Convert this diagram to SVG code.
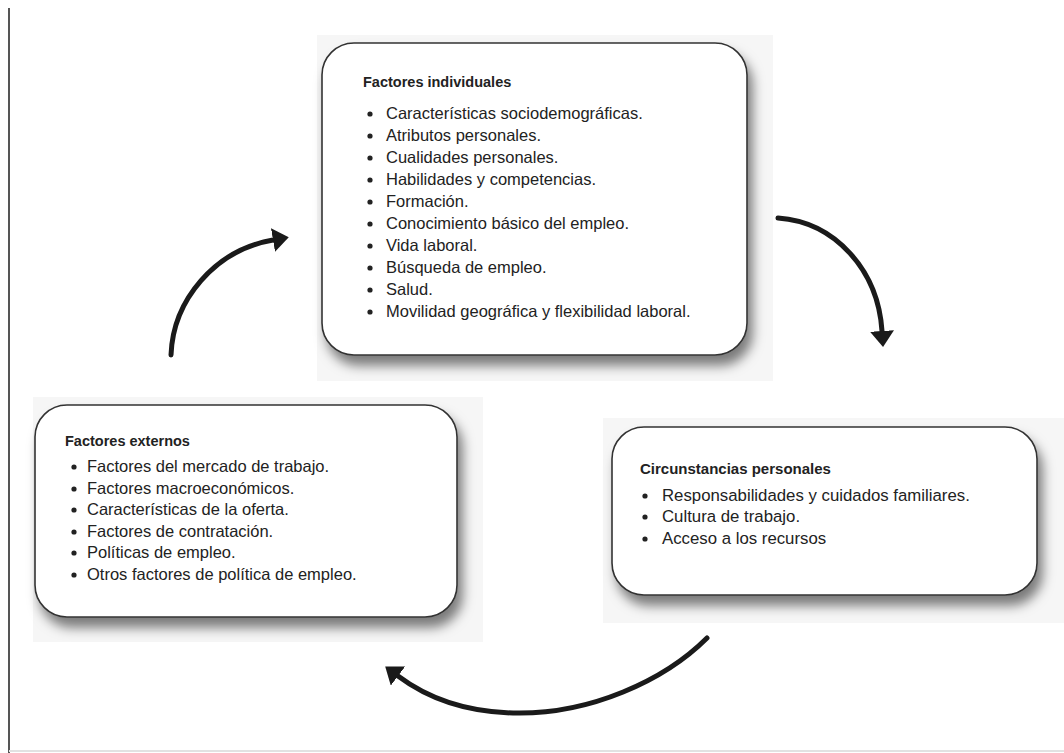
<svg xmlns="http://www.w3.org/2000/svg" width="1064" height="753" viewBox="0 0 1064 753">
<defs>
<filter id="shadow" x="-10%" y="-10%" width="125%" height="135%">
<feDropShadow dx="5" dy="10" stdDeviation="6" flood-color="#000" flood-opacity="0.5"/>
</filter>
<marker id="head" viewBox="0 0 16 24" refX="0" refY="12" markerWidth="16" markerHeight="24" markerUnits="userSpaceOnUse" orient="auto">
<path d="M0,0 L16,12 L0,24 z" fill="#1a1a1a"/>
</marker>
<style>
.bg{fill:#f6f6f6;}
.box{fill:#fff;stroke:#333;stroke-width:1.6;filter:url(#shadow);}
.title{font-family:"Liberation Sans",Arial,sans-serif;font-weight:bold;font-size:14.5px;fill:#222;}
.item{font-family:"Liberation Sans",Arial,sans-serif;font-size:16.5px;fill:#222;}
.dot{fill:#222;}
.arrow{fill:none;stroke:#1a1a1a;stroke-width:5;stroke-linecap:round;marker-end:url(#head);}
</style>
</defs>
<rect width="1064" height="753" fill="#fff"/>
<line x1="9" y1="8" x2="9" y2="753" stroke="#555" stroke-width="2"/>
<line x1="9" y1="751" x2="1064" y2="751" stroke="#e2e2e2" stroke-width="2"/>

<g id="node-individuales">
<rect class="bg" x="317" y="35" width="456" height="346"/>
<rect class="box" x="322" y="43" width="425" height="312" rx="32" ry="32"/>
<text class="title" x="363" y="87">Factores individuales</text>
<g class="dot">
<circle cx="370" cy="114" r="2.6"/><circle cx="370" cy="136" r="2.6"/><circle cx="370" cy="158" r="2.6"/><circle cx="370" cy="180" r="2.6"/><circle cx="370" cy="202" r="2.6"/><circle cx="370" cy="224" r="2.6"/><circle cx="370" cy="246" r="2.6"/><circle cx="370" cy="268" r="2.6"/><circle cx="370" cy="290" r="2.6"/><circle cx="370" cy="312" r="2.6"/>
</g>
<text class="item" x="386" y="119">Características sociodemográficas.</text>
<text class="item" x="386" y="141">Atributos personales.</text>
<text class="item" x="386" y="163">Cualidades personales.</text>
<text class="item" x="386" y="185">Habilidades y competencias.</text>
<text class="item" x="386" y="207">Formación.</text>
<text class="item" x="386" y="229">Conocimiento básico del empleo.</text>
<text class="item" x="386" y="251">Vida laboral.</text>
<text class="item" x="386" y="273">Búsqueda de empleo.</text>
<text class="item" x="386" y="295">Salud.</text>
<text class="item" x="386" y="317">Movilidad geográfica y flexibilidad laboral.</text>
</g>

<g id="node-externos">
<rect class="bg" x="33" y="397" width="450" height="245"/>
<rect class="box" x="35" y="405" width="422" height="212" rx="32" ry="32"/>
<text class="title" x="65" y="446">Factores externos</text>
<g class="dot">
<circle cx="74" cy="467" r="2.6"/><circle cx="74" cy="489" r="2.6"/><circle cx="74" cy="510" r="2.6"/><circle cx="74" cy="532" r="2.6"/><circle cx="74" cy="553" r="2.6"/><circle cx="74" cy="575" r="2.6"/>
</g>
<text class="item" x="87" y="472">Factores del mercado de trabajo.</text>
<text class="item" x="87" y="494">Factores macroeconómicos.</text>
<text class="item" x="87" y="515">Características de la oferta.</text>
<text class="item" x="87" y="537">Factores de contratación.</text>
<text class="item" x="87" y="558">Políticas de empleo.</text>
<text class="item" x="87" y="580">Otros factores de política de empleo.</text>
</g>

<g id="node-circunstancias">
<rect class="bg" x="603" y="418" width="461" height="205"/>
<rect class="box" x="612" y="427" width="425" height="168" rx="32" ry="32"/>
<text class="title" x="640" y="474" style="font-size:15px">Circunstancias personales</text>
<g class="dot">
<circle cx="645" cy="496" r="2.6"/><circle cx="645" cy="517" r="2.6"/><circle cx="645" cy="539" r="2.6"/>
</g>
<text class="item" x="662" y="501" style="font-size:16.8px">Responsabilidades y cuidados familiares.</text>
<text class="item" x="662" y="522" style="font-size:16.8px">Cultura de trabajo.</text>
<text class="item" x="662" y="544" style="font-size:16.8px">Acceso a los recursos</text>
</g>

<g id="connectors">
<path class="arrow" d="M171,355 C173,300 215,250 273,240"/>
<path class="arrow" d="M778,218 C835,222 878,270 882,331"/>
<path class="arrow" d="M707,638 C665,680 590,715 513,713 C470,712 430,700 398,676"/>
</g>
</svg>
